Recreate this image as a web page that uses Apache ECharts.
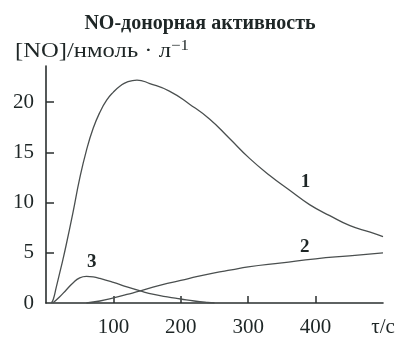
<!DOCTYPE html>
<html><head><meta charset="utf-8">
<script src="https://cdn.jsdelivr.net/npm/echarts@6/dist/echarts.min.js"></script>
<style>html,body{margin:0;padding:0;background:#fff}#c{width:400px;height:338px}</style>
</head><body><div id="c"></div>
<script>
var titleText = 'NO-донорная активность';
var yName = '[NO]/нмоль · л';
var ySup = '−1';
var xName = 'τ/с';
var xTicks = [100, 200, 300, 400];
var yTicks = [0, 5, 10, 15, 20];

var t1 = [8, 11, 15, 20, 25, 30, 40, 50, 60, 70, 80, 90, 100, 110, 120, 135, 154, 183, 213, 243, 272, 302, 332, 362, 391, 421, 451, 481, 500];
var y1 = [0, 0.4, 1.5, 2.9, 4.3, 5.8, 9.0, 12.4, 15.2, 17.4, 19.0, 20.2, 21.0, 21.6, 22.0, 22.2, 21.85, 21.1, 19.8, 18.3, 16.4, 14.4, 12.7, 11.2, 9.8, 8.7, 7.7, 7.05, 6.6];
var t2 = [60, 80, 100, 120, 140, 160, 180, 200, 225, 250, 275, 300, 350, 400, 450, 500];
var y2 = [0, 0.2, 0.5, 0.85, 1.2, 1.6, 1.95, 2.25, 2.65, 3.0, 3.3, 3.6, 4.0, 4.4, 4.7, 5.0];
var t3 = [10, 20, 30, 40, 50, 60, 70, 80, 100, 120, 140, 160, 180, 200, 220, 240, 250];
var y3 = [0, 0.6, 1.3, 2.0, 2.5, 2.65, 2.6, 2.45, 2.05, 1.6, 1.2, 0.85, 0.6, 0.4, 0.2, 0.05, 0];

var curveNames = ['1', '2', '3'];
var labelAt = [[385, 12.0], [384, 5.6], [68, 4.1]];

function pairs(t, y) { return t.map(function (v, i) { return [v, y[i]]; }); }

var serif = 'Liberation Serif';
var textColor = '#1e2626';
var lineColor = '#4a4f4f';
var axisColor = '#2a2f2f';

function mkSeries(name, t, y, lab) {
  return {
    type: 'line', name: name, data: pairs(t, y), smooth: 0.5, symbol: 'none',
    lineStyle: { color: lineColor, width: 1.3 },
    markPoint: {
      symbol: 'circle', symbolSize: 0, silent: true,
      label: { show: true, position: 'inside', formatter: name, fontFamily: serif, fontWeight: 'bold', fontSize: 19, color: textColor },
      data: [{ coord: lab }]
    }
  };
}

var chart = echarts.init(document.getElementById('c'));
chart.setOption({
  animation: false,
  backgroundColor: '#fff',
  title: {
    text: titleText, left: 'center', top: 9,
    textStyle: { fontFamily: serif, fontWeight: 'bold', fontSize: 20, color: textColor }
  },
  graphic: [{
    type: 'text', left: 15, top: 39, scaleX: 1.12,
    style: {
      text: '{a|' + yName + '}{b|' + ySup + '}',
      rich: {
        a: { fontFamily: serif, fontSize: 22, fill: textColor, lineHeight: 24 },
        b: { fontFamily: serif, fontSize: 15, fill: textColor, verticalAlign: 'top', lineHeight: 16 }
      }
    }
  }],
  grid: { left: 46, right: 17, top: 66, bottom: 31, containLabel: false },
  xAxis: {
    type: 'value', min: 0, max: 500, interval: 100,
    axisLine: { lineStyle: { color: axisColor, width: 1.6 } },
    axisTick: { inside: true, length: 7, customValues: xTicks, lineStyle: { color: axisColor, width: 1.5 } },
    axisLabel: {
      customValues: xTicks.concat([500]), margin: 14,
      formatter: function (v) { return v === 500 ? xName : String(v); },
      fontFamily: serif, fontSize: 21, color: textColor
    },
    splitLine: { show: false }
  },
  yAxis: {
    type: 'value', min: 0, max: 23.6, interval: 5,
    axisLine: { show: true, lineStyle: { color: axisColor, width: 1.6 } },
    axisTick: { show: true, inside: true, length: 8, customValues: yTicks.slice(1), lineStyle: { color: axisColor, width: 1.5 } },
    axisLabel: { customValues: yTicks, margin: 12, fontFamily: serif, fontSize: 21, color: textColor },
    splitLine: { show: false }
  },
  series: [
    mkSeries(curveNames[0], t1, y1, labelAt[0]),
    mkSeries(curveNames[1], t2, y2, labelAt[1]),
    mkSeries(curveNames[2], t3, y3, labelAt[2])
  ]
});
</script></body></html>
